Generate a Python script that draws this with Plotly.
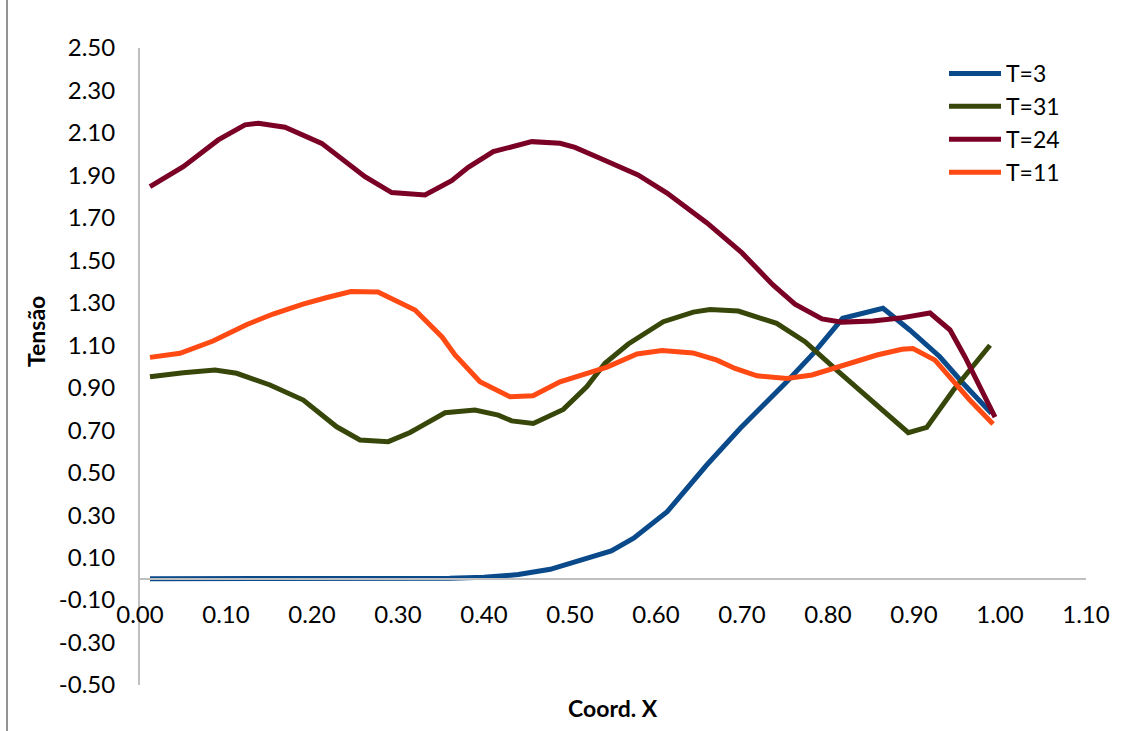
import plotly.graph_objects as go

# Coordinates along the member (Coord. X) and stress values (Tensão) per time step
x_t3 = [0.0116, 0.070, 0.128, 0.186, 0.244, 0.302, 0.360, 0.400, 0.440, 0.477,
        0.509, 0.548, 0.574, 0.613, 0.659, 0.698, 0.752, 0.783, 0.817, 0.864,
        0.895, 0.930, 0.957, 0.990]
y_t3 = [0.000, 0.000, 0.000, 0.000, 0.000, 0.001, 0.003, 0.007, 0.020, 0.045,
        0.081, 0.131, 0.191, 0.316, 0.536, 0.709, 0.928, 1.062, 1.227, 1.274,
        1.172, 1.046, 0.921, 0.780]

x_t31 = [0.0116, 0.0503, 0.0872, 0.1124, 0.1512, 0.1899, 0.2287, 0.2558, 0.2887,
         0.3140, 0.3256, 0.3547, 0.3895, 0.4166, 0.4322, 0.4573, 0.4922, 0.5194,
         0.5407, 0.5678, 0.6085, 0.6434, 0.6628, 0.6957, 0.7403, 0.7733, 0.8101,
         0.8527, 0.8934, 0.9148, 0.9457, 0.9884]
y_t31 = [0.952, 0.971, 0.983, 0.968, 0.913, 0.842, 0.716, 0.654, 0.646,
         0.689, 0.716, 0.782, 0.795, 0.771, 0.744, 0.732, 0.798, 0.904,
         1.015, 1.106, 1.211, 1.256, 1.268, 1.261, 1.203, 1.117, 0.983,
         0.834, 0.688, 0.713, 0.888, 1.100]

x_t24 = [0.0116, 0.0503, 0.0910, 0.1221, 0.1376, 0.1686, 0.2113, 0.2422, 0.2616,
         0.2927, 0.3314, 0.3624, 0.3817, 0.4108, 0.4555, 0.4884, 0.5058, 0.5349,
         0.5791, 0.6128, 0.6593, 0.7000, 0.7360, 0.7616, 0.7930, 0.8163, 0.8523,
         0.8837, 0.9186, 0.9419, 0.9593, 0.9942]
y_t24 = [1.847, 1.941, 2.067, 2.138, 2.146, 2.127, 2.051, 1.957, 1.894,
         1.819, 1.808, 1.875, 1.938, 2.012, 2.059, 2.051, 2.032, 1.981,
         1.902, 1.817, 1.676, 1.535, 1.384, 1.294, 1.224, 1.209, 1.214,
         1.228, 1.252, 1.172, 1.045, 0.762]

x_t11 = [0.0116, 0.0465, 0.0849, 0.1244, 0.1547, 0.1895, 0.2174, 0.2453, 0.2767,
         0.3198, 0.3512, 0.3663, 0.3953, 0.4302, 0.4570, 0.4884, 0.5430, 0.5779,
         0.6070, 0.6430, 0.6709, 0.6919, 0.7174, 0.7523, 0.7814, 0.8140, 0.8570,
         0.8860, 0.8988, 0.9244, 0.9419, 0.9651, 0.9919]
y_t11 = [1.043, 1.062, 1.120, 1.198, 1.247, 1.294, 1.325, 1.353, 1.351,
         1.266, 1.139, 1.054, 0.928, 0.858, 0.862, 0.928, 0.997, 1.059,
         1.075, 1.064, 1.030, 0.991, 0.956, 0.944, 0.960, 1.002, 1.054,
         1.081, 1.085, 1.030, 0.951, 0.841, 0.729]

series_names = ["T=3", "T=31", "T=24", "T=11"]
series_colors = ["#0A4A8A", "#37470A", "#7A0026", "#FF4A14"]

x_tick_vals = [0.0, 0.1, 0.2, 0.3, 0.4, 0.5, 0.6, 0.7, 0.8, 0.9, 1.0, 1.1]
y_tick_vals = [-0.5, -0.3, -0.1, 0.1, 0.3, 0.5, 0.7, 0.9, 1.1, 1.3, 1.5, 1.7,
               1.9, 2.1, 2.3, 2.5]
x_tick_text = [f"{v:.2f}" for v in x_tick_vals]
y_tick_text = [f"{v:.2f}" for v in y_tick_vals]

FONT = "Lato"
AXIS_GREY = "#BFBFBF"

fig = go.Figure()
for name, xs, ys, color in zip(series_names,
                               [x_t3, x_t31, x_t24, x_t11],
                               [y_t3, y_t31, y_t24, y_t11],
                               series_colors):
    fig.add_trace(go.Scatter(x=xs, y=ys, mode="lines", name=name,
                             line=dict(color=color, width=5)))

fig.update_layout(
    width=1124, height=731,
    margin=dict(l=140, r=38, t=48, b=46),
    paper_bgcolor="white", plot_bgcolor="white",
    font=dict(family=FONT, size=24, color="#000000"),
    showlegend=True,
    legend=dict(x=(944 - 140) / 946, y=1 - (52 - 48) / 637,
                xanchor="left", yanchor="top",
                font=dict(family=FONT, size=23, color="#000000"),
                itemwidth=52, bgcolor="rgba(0,0,0,0)", tracegroupgap=0),
    xaxis=dict(range=[0, 1.1], tickvals=x_tick_vals, ticktext=x_tick_text,
               showgrid=False, zeroline=False, showline=True,
               linecolor=AXIS_GREY, linewidth=2, ticks="",
               anchor="free", position=0.5 / 3.0,
               ticklabelstandoff=14,
               tickfont=dict(family=FONT, size=24, color="#000000")),
    yaxis=dict(range=[-0.5, 2.5], tickvals=y_tick_vals, ticktext=y_tick_text,
               showgrid=False, zeroline=False, showline=True,
               linecolor=AXIS_GREY, linewidth=2, ticks="",
               ticklabelstandoff=18,
               tickfont=dict(family=FONT, size=24, color="#000000")),
)

# Axis titles
fig.add_annotation(text="<b>Tensão</b>", xref="paper", yref="paper",
                   x=(36 - 140) / 946, y=(685 - 332) / 637, textangle=-90,
                   showarrow=False, xanchor="center", yanchor="middle",
                   font=dict(family=FONT, size=23, color="#000000"))
fig.add_annotation(text="<b>Coord. X</b>", xref="paper", yref="paper",
                   x=0.5, y=(685 - 708) / 637,
                   showarrow=False, xanchor="center", yanchor="middle",
                   font=dict(family=FONT, size=23, color="#000000"))

# Left edge of the chart-area frame
fig.add_shape(type="line", xref="paper", yref="paper",
              x0=(7 - 140) / 946, x1=(7 - 140) / 946,
              y0=(685 - 731) / 637, y1=(685 - 0) / 637,
              line=dict(color="#6F6F6F", width=1.5), layer="below")

fig.write_html("out.html")
